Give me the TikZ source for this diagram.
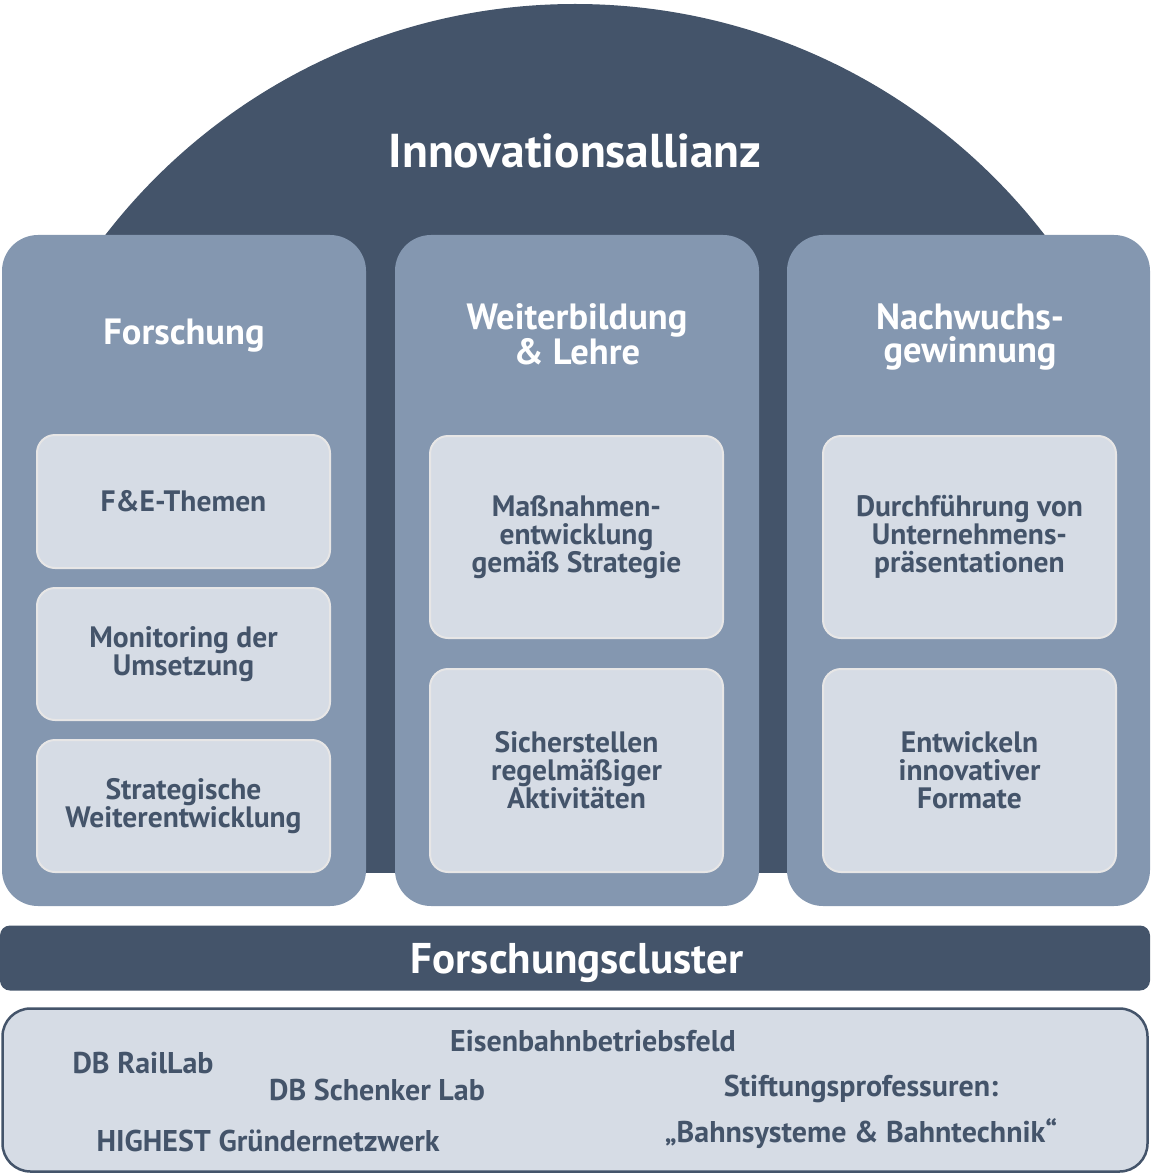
\documentclass[tikz,border=0pt]{standalone}
\usepackage{fontspec}
\setmainfont{PT Sans}
\definecolor{slate}{HTML}{44546A}
\definecolor{steel}{HTML}{8497B0}
\definecolor{mist}{HTML}{D6DCE5}
\definecolor{rim}{HTML}{E7E6E6}
\begin{document}
\begin{tikzpicture}[x=1pt,y=-1pt,
  pillar/.style={fill=steel, draw=none, rounded corners=36pt, inner sep=0pt},
  card/.style={fill=mist, draw=rim, line width=2pt, rounded corners=18pt,
    text=slate, align=center, inner sep=0pt, minimum width=293pt,
    font=\fontsize{29.5}{28}\selectfont\bfseries},
  pillartitle/.style={text=white, align=center, inner sep=0pt,
    font=\fontsize{36.5}{33}\selectfont\bfseries},
  headline/.style={text=white, inner sep=0pt, font=\fontsize{47.5}{48}\selectfont\bfseries},
  bandtext/.style={text=white, inner sep=0pt, font=\fontsize{43}{43}\selectfont\bfseries},
  member/.style={text=slate, inner sep=0pt, anchor=base, font=\fontsize{30}{30}\selectfont\bfseries}]
\useasboundingbox (0,0) rectangle (1151,1174);

% dome behind the three pillars
\begin{scope}
  \clip (10,0) rectangle (1141,872);
  \fill[slate] (575,597) circle (593);
\end{scope}
\node[headline, anchor=base] (alliance) at (575,168) {Innovationsallianz};

% pillars
\node[pillar, minimum width=364pt, minimum height=671pt] (colA) at (184,570.5) {};
\node[pillar, minimum width=364pt, minimum height=671pt] (colB) at (577,570.5) {};
\node[pillar, minimum width=363pt, minimum height=671pt] (colC) at (968.5,570.5) {};

\node[pillartitle] (tA) at (184,336) {Forschung};
\node[pillartitle] (tB) at (577,334) {Weiterbildung\\\& Lehre};
\node[pillartitle] (tC) at (970,337) {Nachwuchs-\\gewinnung};

% cards of the research pillar
\node[card, minimum height=133pt] (a1) at (183.5,501.5) {F\&E-Themen};
\node[card, minimum height=132pt] (a2) at (183.5,654) {Monitoring der\\Umsetzung};
\node[card, minimum height=132pt] (a3) at (183.5,806) {Strategische\\Weiterentwicklung};

% cards of the teaching pillar
\node[card, minimum height=202pt] (b1) at (576.5,537) {Maßnahmen-\\entwicklung\\gemäß Strategie};
\node[card, minimum height=203pt] (b2) at (576.5,770.5) {Sicherstellen\\regelmäßiger\\Aktivitäten};

% cards of the recruiting pillar
\node[card, minimum height=202pt] (c1) at (969.5,537) {Durchführung von\\Unternehmens-\\präsentationen};
\node[card, minimum height=203pt] (c2) at (969.5,770.5) {Entwickeln\\innovativer\\Formate};

% cluster band
\node[fill=slate, rounded corners=10pt, minimum width=1150pt, minimum height=65pt, inner sep=0pt] (band) at (575,958) {};
\node[bandtext, anchor=base] (bandlabel) at (577,973) {Forschungscluster};

% cluster members
\node[fill=mist, draw=slate, line width=2.5pt, rounded corners=28pt,
  minimum width=1145pt, minimum height=163pt, inner sep=0pt] (base) at (575,1090) {};
\node[member] (m1) at (593,1051) {Eisenbahnbetriebsfeld};
\node[member] (m2) at (143,1073) {DB RailLab};
\node[member] (m3) at (377,1100) {DB Schenker Lab};
\node[member] (m4) at (268,1151) {HIGHEST Gründernetzwerk};
\node[member] (m5) at (861,1096) {Stiftungsprofessuren:};
\node[member] (m6) at (861,1142) {„Bahnsysteme \& Bahntechnik“};
\end{tikzpicture}
\end{document}
